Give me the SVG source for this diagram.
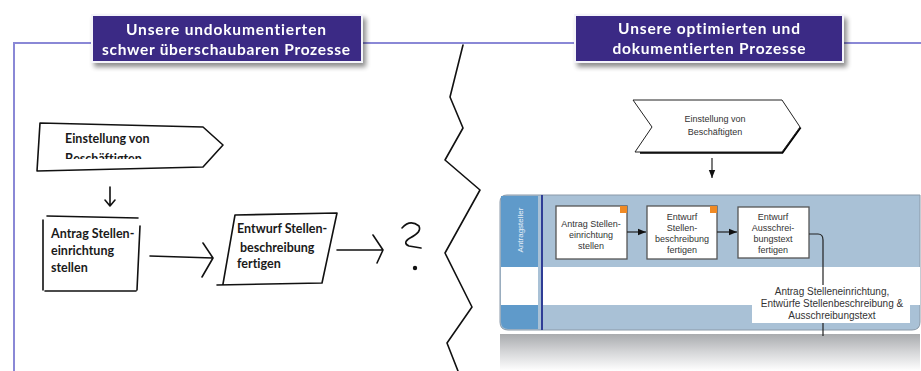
<svg xmlns="http://www.w3.org/2000/svg" width="921" height="371" viewBox="0 0 921 371">
<defs>
<style>
.frame{fill:none;stroke:#8a88d6;stroke-width:2}
.hdr{fill:#3b2c85;stroke:#f4f4fa;stroke-width:2}
.hdrt{fill:#ffffff;font-family:Lato,"Open Sans","Liberation Sans",sans-serif;font-weight:bold;font-size:15.5px;text-anchor:middle;font-variant-ligatures:none}
.hand{fill:none;stroke:#111;stroke-width:1.6;stroke-linecap:round;stroke-linejoin:round}
.handt{fill:#1a1a1a;font-family:Lato,"Open Sans","Liberation Sans",sans-serif;font-weight:bold;font-size:12.5px;font-variant-ligatures:none}
.task{fill:#ffffff;stroke:#555;stroke-width:1.3}
.tt{fill:#333;font-family:"Liberation Sans",Arial,sans-serif;font-size:9px;text-anchor:middle}
.lbl{fill:#333;font-family:"Liberation Sans",Arial,sans-serif;font-size:10px;text-anchor:middle}
.conn{fill:none;stroke:#222;stroke-width:1.2}
</style>
<filter id="sh" x="-10%" y="-20%" width="125%" height="160%">
<feGaussianBlur in="SourceAlpha" stdDeviation="2.5"/>
<feOffset dx="3" dy="4"/>
<feComponentTransfer><feFuncA type="linear" slope="0.45"/></feComponentTransfer>
<feMerge><feMergeNode/><feMergeNode in="SourceGraphic"/></feMerge>
</filter>
<marker id="ah" viewBox="0 0 10 10" refX="10" refY="5" markerWidth="7" markerHeight="7" orient="auto">
<path d="M0,1 L10,5 L0,9 z" fill="#111"/>
</marker>
<linearGradient id="refl" x1="0" y1="0" x2="0" y2="1">
<stop offset="0" stop-color="#a9abae"/>
<stop offset="0.5" stop-color="#d6d7d9"/>
<stop offset="1" stop-color="#ffffff"/>
</linearGradient>
<clipPath id="clipB"><rect x="30" y="115" width="200" height="44"/></clipPath>
</defs>
<rect width="921" height="371" fill="#ffffff"/>

<!-- frame -->
<path class="frame" d="M14,371 L14,43 L921,43"/>

<!-- zigzag divider -->
<polyline class="hand" points="463,45 450,97 463,128 445,160 480,190 445,253 472,307 447,343 458,371" stroke-width="1.8"/>

<!-- headers -->
<g id="header-left" filter="url(#sh)">
<rect class="hdr" x="92" y="15" width="270" height="47"/>
<text class="hdrt" x="226" y="35" textLength="200">Unsere undokumentierten</text>
<text class="hdrt" x="226" y="55" textLength="248">schwer überschaubaren Prozesse</text>
</g>
<g id="header-right" filter="url(#sh)">
<rect class="hdr" x="575" y="15" width="268" height="47"/>
<text class="hdrt" x="709" y="34" font-size="16.5" textLength="182">Unsere optimierten und</text>
<text class="hdrt" x="709" y="54" font-size="16.5" textLength="193">dokumentierten Prozesse</text>
</g>

<!-- left: hand drawn process -->
<g id="l-start">
<path class="hand" d="M40,123 L203,127 L223,145 L203,167 L37,171 Z"/>
<text class="handt" x="65" y="143" font-size="13">Einstellung von</text>
<text class="handt" x="65" y="163" font-size="13" clip-path="url(#clipB)">Beschäftigten</text>
</g>
<g id="l-antrag">
<path class="hand" d="M47,216 L138,218 M43,220 L43,290 M140,226 L137,290 M45,291 L136,291"/>
<text class="handt" x="51" y="238">Antrag Stellen-</text>
<text class="handt" x="51" y="255">einrichtung</text>
<text class="handt" x="51" y="272">stellen</text>
</g>
<g id="l-entwurf">
<path class="hand" d="M235,215 L337,213 L322,283 L217,285 M235,215 L223,284"/>
<text class="handt" x="237" y="233">Entwurf Stellen-</text>
<text class="handt" x="240" y="252">beschreibung</text>
<text class="handt" x="237" y="268">fertigen</text>
</g>
<g id="l-question">
<path class="hand" d="M402,228 Q410,219 419,226 Q422,232 410,238 Q402,243 409,246 L421,248" stroke-width="1.9"/>
<circle cx="415" cy="268" r="2.2" fill="#111"/>
</g>
<g id="l-connectors">
<path class="hand" d="M110,187 L110,206 M105,200 L110,206 L115,200"/>
<path class="hand" d="M150,256 L213,258 M203,243 L213,258 L202,277"/>
<path class="hand" d="M337,250 L383,250 M373,235 L383,250 L377,263"/>
</g>

<!-- right: pool -->
<g id="pool">
<path d="M500,334 L920,334 L920,371 L500,371 Z" fill="url(#refl)"/>
<path d="M507,195 L920,195 L920,322 Q920,330 912,330 L508,330 Q500,330 500,322 L500,202 Q500,195 507,195 Z" fill="#a9c1d6" stroke="#8a99a8" stroke-width="1"/>
<rect x="541" y="267" width="379" height="38" fill="#ffffff"/>
<rect x="501" y="196" width="37" height="71" fill="#5f9aca"/>
<rect x="501" y="267" width="37" height="38" fill="#ffffff"/>
<path d="M501,305 L538,305 L538,329 L508,329 Q501,329 501,322 Z" fill="#5f9aca"/>
<line x1="542" y1="195" x2="542" y2="330" stroke="#2f3d96" stroke-width="2"/>
<text x="0" y="0" transform="translate(523,230) rotate(-90)" fill="#e8f0f8" font-family="Liberation Sans,Arial,sans-serif" font-size="8" text-anchor="middle">Antragsteller</text>
</g>

<g id="r-start">
<path d="M640,152 L782,152 L800,127" fill="none" stroke="#000" stroke-width="3.5"/>
<path d="M633,100 L782,100 L800,127 L782,152 L635,152 L652,127 Z" fill="#ffffff" stroke="#222" stroke-width="1"/>
<text class="tt" x="715" y="122" font-size="9.5">Einstellung von</text>
<text class="tt" x="715" y="135" font-size="9.5">Beschäftigten</text>
</g>

<g id="task1">
<rect class="task" x="556" y="206" width="71" height="53"/>
<rect x="620" y="206" width="7" height="7" fill="#f08a24"/>
<text class="tt" x="591" y="227">Antrag Stellen-</text>
<text class="tt" x="591" y="238">einrichtung</text>
<text class="tt" x="591" y="249">stellen</text>
</g>
<g id="task2">
<rect class="task" x="647" y="206" width="70" height="53"/>
<rect x="710" y="206" width="7" height="7" fill="#f08a24"/>
<text class="tt" x="682" y="220">Entwurf</text>
<text class="tt" x="682" y="231">Stellen-</text>
<text class="tt" x="682" y="242">beschreibung</text>
<text class="tt" x="682" y="253">fertigen</text>
</g>
<g id="task3">
<rect class="task" x="738" y="207" width="71" height="51"/>
<text class="tt" x="773" y="220">Entwurf</text>
<text class="tt" x="773" y="231">Ausschrei-</text>
<text class="tt" x="773" y="242">bungstext</text>
<text class="tt" x="773" y="253">fertigen</text>
</g>

<g id="connectors">
<line class="conn" x1="712" y1="158" x2="712" y2="178" marker-end="url(#ah)"/>
<line class="conn" x1="627" y1="232" x2="646" y2="232" marker-end="url(#ah)"/>
<line class="conn" x1="717" y1="232" x2="737" y2="232" marker-end="url(#ah)"/>
<path class="conn" d="M809,234 L818,234 Q823,234 823,240 L823,336" stroke="#445"/>
</g>

<g id="output-label">
<rect x="752" y="285" width="158" height="38" fill="#ffffff"/>
<text class="lbl" x="832" y="295">Antrag Stelleneinrichtung,</text>
<text class="lbl" x="832" y="307">Entwürfe Stellenbeschreibung &amp;</text>
<text class="lbl" x="832" y="319">Ausschreibungstext</text>
</g>
</svg>
